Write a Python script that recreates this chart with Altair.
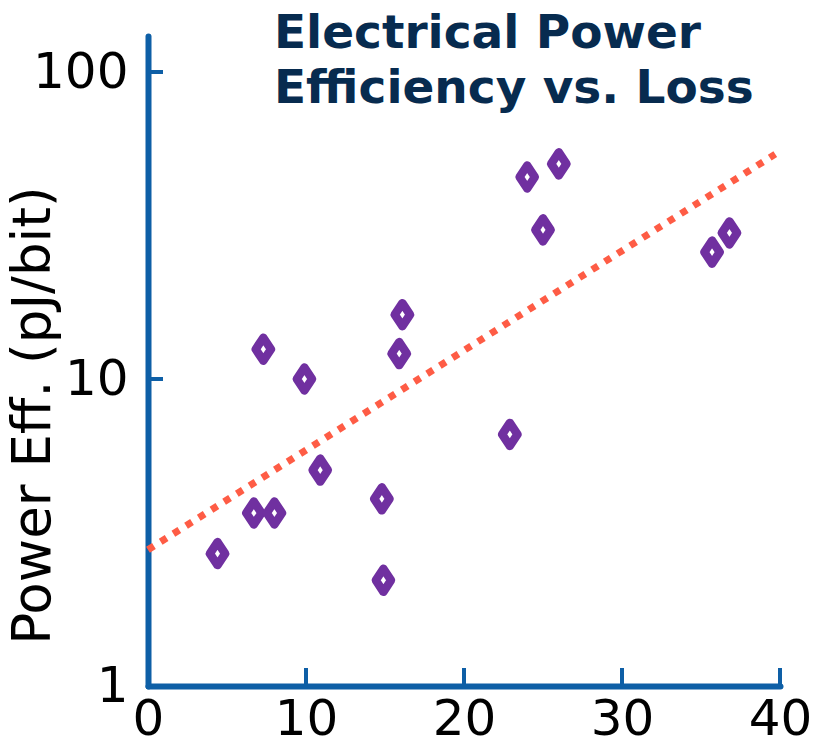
import altair as alt
import pandas as pd

# Data
loss_db = [4.4, 6.7, 8.0, 7.3, 9.9, 10.9, 14.8, 14.9, 15.9, 16.1, 22.9, 24.0, 25.0, 26.0, 35.7, 36.8]
power_eff = [2.7, 3.66, 3.66, 12.5, 10.0, 5.05, 4.07, 2.21, 12.1, 16.2, 6.6, 45.5, 30.6, 50.2, 25.9, 29.9]

trend_x = [0.0, 39.7]
trend_y = [2.78, 54.0]

x_ticks = [0, 10, 20, 30, 40]
y_ticks = [1, 10, 100]
x_inner_ticks = [10, 20, 30, 40]

title_lines = "Electrical Power\nEfficiency vs. Loss"

AXIS_COLOR = "#0e5fa6"
POINT_COLOR = "#7030a0"
TREND_COLOR = "#fe5c45"
TITLE_COLOR = "#072b4f"
FONT = "DejaVu Sans"

W, H = 632, 650

pts = pd.DataFrame({"loss": loss_db, "eff": power_eff})
trend = pd.DataFrame({"loss": trend_x, "eff": trend_y})
yt = pd.DataFrame({"eff": y_ticks})
xt = pd.DataFrame({"loss": x_inner_ticks})

xscale = alt.Scale(domain=[0, 40], nice=False, zero=False)
yscale = alt.Scale(type="log", domain=[1, 131], nice=False)

xaxis = alt.Axis(
    values=x_ticks, format="d", title=None, grid=False, ticks=False, tickSize=0,
    domainColor=AXIS_COLOR, domainWidth=6, domainCap="round",
    labelFont=FONT, labelFontSize=50, labelColor="black", labelPadding=8,
    labelOverlap=False, labelFlush=False,
)
yaxis = alt.Axis(
    values=y_ticks, format="d", title="Power Eff. (pJ/bit)", grid=False, ticks=False, tickSize=0,
    domainColor=AXIS_COLOR, domainWidth=6, domainCap="round",
    labelFont=FONT, labelFontSize=50, labelColor="black", labelPadding=20,
    labelOverlap=False,
    titleFont=FONT, titleFontSize=53, titleFontWeight="normal", titleColor="black",
    titleX=-99, titleY=379, titleAngle=270, titleAlign="center", titleBaseline="alphabetic",
)

diamond = "M0,-1L0.664,0L0,1L-0.664,0Z"

points = alt.Chart(pts).mark_point(
    shape=diamond, size=530, filled=True, fill="white", stroke=POINT_COLOR,
    strokeWidth=8.5, strokeJoin="round", opacity=1, fillOpacity=1, strokeOpacity=1,
).encode(
    x=alt.X("loss:Q", scale=xscale, axis=xaxis),
    y=alt.Y("eff:Q", scale=yscale, axis=yaxis),
)

line = alt.Chart(trend).mark_line(
    color=TREND_COLOR, strokeWidth=7, strokeDash=[7, 8], strokeCap="butt",
).encode(
    x=alt.X("loss:Q", scale=xscale),
    y=alt.Y("eff:Q", scale=yscale),
)

ytick_rules = alt.Chart(yt).mark_rule(color=AXIS_COLOR, strokeWidth=4).encode(
    y=alt.Y("eff:Q", scale=yscale),
    x=alt.value(0),
    x2=alt.value(15),
)

xtick_rules = alt.Chart(xt).mark_rule(color=AXIS_COLOR, strokeWidth=4).encode(
    x=alt.X("loss:Q", scale=xscale),
    y=alt.value(H),
    y2=alt.value(H - 18),
)

title = alt.Chart(pd.DataFrame({"t": [title_lines]})).mark_text(
    align="left", baseline="alphabetic", font=FONT, fontSize=47, fontWeight="bold",
    color=TITLE_COLOR, lineBreak="\n", lineHeight=55,
).encode(
    text="t:N",
    x=alt.value(126),
    y=alt.value(12),
)

chart = alt.layer(ytick_rules, xtick_rules, line, points, title).properties(
    width=W, height=H,
    background="white",
    autosize=alt.AutoSizeParams(type="none"),
    padding={"left": 148, "top": 36, "right": 38, "bottom": 58},
).configure_view(strokeWidth=0, stroke="transparent")

chart.save("out.html", embed_options={"renderer": "svg", "actions": False})
